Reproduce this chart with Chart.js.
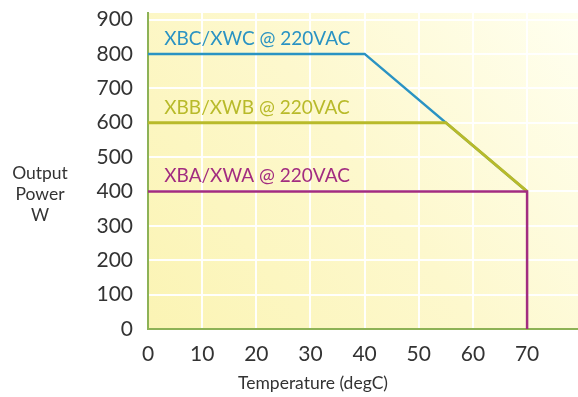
<!DOCTYPE html>
<html><head><meta charset="utf-8">
<script src="https://cdn.jsdelivr.net/npm/chart.js@4"></script>
<style>html,body{margin:0;padding:0;background:#fff}</style>
</head><body>
<canvas id="c" width="578" height="397"></canvas>
<script>
const seriesNames = ['XBC/XWC @ 220VAC', 'XBB/XWB @ 220VAC', 'XBA/XWA @ 220VAC'];
const xbcTemp = [0, 40, 70];
const xbcPower = [800, 800, 400];
const xbbTemp = [0, 55, 70];
const xbbPower = [600, 600, 400];
const xbaTemp = [0, 70, 70];
const xbaPower = [400, 400, 0];
const xTickValues = [0, 10, 20, 30, 40, 50, 60, 70];
const yTickValues = [0, 100, 200, 300, 400, 500, 600, 700, 800, 900];
const yTitleLines = ['Output', 'Power', 'W'];
const xTitle = 'Temperature (degC)';

const colors = ['#2a93c3', '#b8ba2a', '#a22c80'];
const FONT = 'Lato, "Open Sans", sans-serif';

function pts(xs, ys) { return xs.map((x, i) => ({x: x, y: ys[i]})); }

const bgPlugin = {
  id: 'bg',
  beforeDraw(chart) {
    const {ctx, chartArea: a} = chart;
    const g = ctx.createLinearGradient(a.left, a.bottom, a.right, a.top);
    g.addColorStop(0, '#fbf4b4');
    g.addColorStop(0.5, '#fdf8cd');
    g.addColorStop(1, '#fffff0');
    ctx.save();
    ctx.fillStyle = g;
    ctx.fillRect(a.left, a.top, a.right - a.left, a.bottom - a.top);
    ctx.restore();
  }
};

const labelPlugin = {
  id: 'labels',
  afterDatasetsDraw(chart) {
    const {ctx} = chart;
    const xs = chart.scales.x, ys = chart.scales.y;
    ctx.save();
    ctx.font = '19px ' + FONT;
    ctx.textAlign = 'left';
    ctx.textBaseline = 'alphabetic';
    const levels = [xbcPower[0], xbbPower[0], xbaPower[0]];
    seriesNames.forEach((n, i) => {
      ctx.fillStyle = colors[i];
      ctx.fillText(n, xs.getPixelForValue(3), ys.getPixelForValue(levels[i]) - 9);
    });
    // y title
    ctx.fillStyle = '#333';
    ctx.font = '17.5px ' + FONT;
    ctx.textAlign = 'center';
    ctx.textBaseline = 'middle';
    yTitleLines.forEach((t, i) => {
      ctx.fillText(t, 40, 194 + (i - 1) * 21);
    });
    // x title
    ctx.font = '17.5px ' + FONT;
    ctx.fillText(xTitle, 313, 383);
    ctx.restore();
  }
};

new Chart(document.getElementById('c'), {
  type: 'line',
  data: {
    datasets: [
      {label: seriesNames[0], data: pts(xbcTemp, xbcPower), borderColor: colors[0], borderWidth: 2.5, order: 3},
      {label: seriesNames[1], data: pts(xbbTemp, xbbPower), borderColor: colors[1], borderWidth: 3, order: 2},
      {label: seriesNames[2], data: pts(xbaTemp, xbaPower), borderColor: colors[2], borderWidth: 2.5, order: 1}
    ]
  },
  options: {
    responsive: false,
    animation: false,
    layout: {padding: {top: 13, right: 0, bottom: 0, left: 0}},
    elements: {point: {radius: 0}, line: {tension: 0, fill: false}},
    plugins: {legend: {display: false}, tooltip: {enabled: false}},
    scales: {
      x: {
        type: 'linear', min: 0, max: 79.4,
        afterBuildTicks(s) { s.ticks = xTickValues.map(v => ({value: v})); },
        afterFit(s) { s.height = 68; s.paddingLeft = 0; s.paddingRight = 0; },
        grid: {color: 'rgba(255,255,255,0.95)', lineWidth: 2, drawTicks: false},
        border: {color: '#8db256', width: 2},
        ticks: {color: '#333', font: {family: FONT, size: 21}, padding: 13, maxRotation: 0}
      },
      y: {
        type: 'linear', min: 0, max: 919,
        afterBuildTicks(s) { s.ticks = yTickValues.map(v => ({value: v})); },
        afterFit(s) { s.width = 148; s.paddingTop = 0; s.paddingBottom = 0; },
        grid: {color: 'rgba(255,255,255,0.95)', lineWidth: 2, drawTicks: false},
        border: {color: '#8db256', width: 2},
        ticks: {color: '#333', font: {family: FONT, size: 21}, padding: 15}
      }
    }
  },
  plugins: [bgPlugin, labelPlugin]
});
</script>
</body></html>
